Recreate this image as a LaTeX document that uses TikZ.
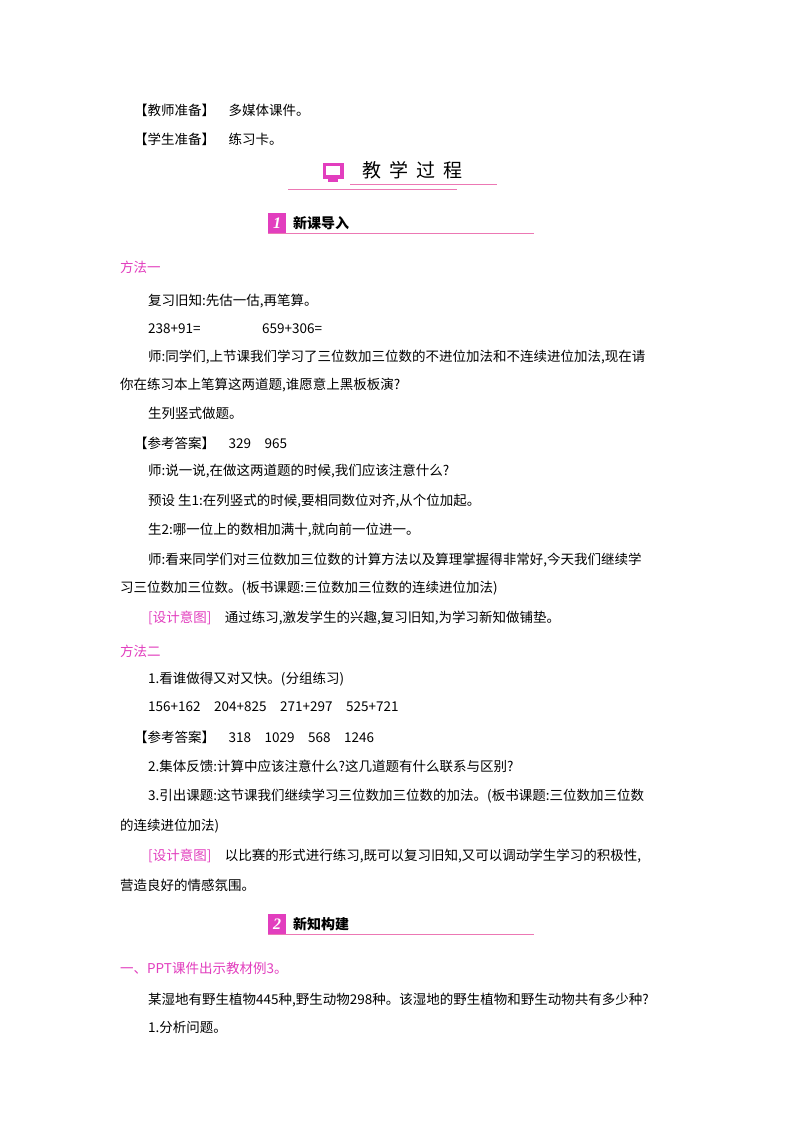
\documentclass[tikz,border=0pt]{standalone}
\usepackage{fontspec}
\setmainfont{Noto Sans CJK SC}
\newfontfamily\numfont{Liberation Serif}
\definecolor{pk}{RGB}{226,62,190}
\definecolor{pkl}{RGB}{236,120,180}
\begin{document}
\begin{tikzpicture}[x=1pt,y=-1pt,
  t/.style={anchor=west,inner sep=0pt,font=\fontsize{13.5}{14}\selectfont},
  pt/.style={t,text=pk},
  sec/.style={anchor=west,inner sep=0pt,font=\fontsize{14}{14}\selectfont\bfseries}]
\useasboundingbox[fill=white] (0,0) rectangle (800,1132);
\node[t] (a1) at (134,110) {【教师准备】\quad 多媒体课件。};
\node[t] (a2) at (134,139) {【学生准备】\quad 练习卡。};
% header
\draw[pk,fill=pk] (323,163) rectangle (343,178);
\fill[white] (326,166) rectangle (340,175);
\fill[pk] (328,179) rectangle (338,182);
\node[anchor=west,inner sep=0pt,font=\fontsize{19}{19}\selectfont] (hd) at (362,170) {教\hspace{8pt}学\hspace{8pt}过\hspace{8pt}程};
\draw[pkl,line width=0.8pt] (350,184) -- (497,184);
\draw[pkl,line width=0.8pt] (288,189) -- (457,189);
% section 1
\fill[pk] (268,213) rectangle (286,233);
\node[inner sep=0pt,text=white,font=\bfseries\itshape\fontsize{16}{16}\selectfont\numfont] (n1) at (277,223) {1};
\node[sec] (s1) at (293,223) {新课导入};
\draw[pkl,line width=0.6pt] (268,233.5) -- (534,233.5);
\node[pt] (m1) at (120,267) {方法一};
\node[t] (l1) at (148,301) {复习旧知:先估一估,再笔算。};
\node[t] (l2) at (148,329) {238+91=};
\node[t] (l2b) at (262,329) {659+306=};
\node[t] (l3) at (148,357) {师:同学们,上节课我们学习了三位数加三位数的不进位加法和不连续进位加法,现在请};
\node[t] (l4) at (120,385) {你在练习本上笔算这两道题,谁愿意上黑板板演?};
\node[t] (l5) at (148,413) {生列竖式做题。};
\node[t] (l6) at (134,443) {【参考答案】\quad 329\quad 965};
\node[t] (l7) at (148,471) {师:说一说,在做这两道题的时候,我们应该注意什么?};
\node[t] (l8) at (148,501) {预设\ 生1:在列竖式的时候,要相同数位对齐,从个位加起。};
\node[t] (l9) at (148,530) {生2:哪一位上的数相加满十,就向前一位进一。};
\node[t] (l10) at (148,560) {师:看来同学们对三位数加三位数的计算方法以及算理掌握得非常好,今天我们继续学};
\node[t] (l11) at (120,588) {习三位数加三位数。(板书课题:三位数加三位数的连续进位加法)};
\node[t] (l12) at (148,618) {\textcolor{pk}{[设计意图]}\quad 通过练习,激发学生的兴趣,复习旧知,为学习新知做铺垫。};
\node[pt] (m2) at (120,651) {方法二};
\node[t] (k1) at (148,679) {1.看谁做得又对又快。(分组练习)};
\node[t] (k2) at (148,707) {156+162\quad 204+825\quad 271+297\quad 525+721};
\node[t] (k3) at (134,737) {【参考答案】\quad 318\quad 1029\quad 568\quad 1246};
\node[t] (k4) at (148,766) {2.集体反馈:计算中应该注意什么?这几道题有什么联系与区别?};
\node[t] (k5) at (148,796) {3.引出课题:这节课我们继续学习三位数加三位数的加法。(板书课题:三位数加三位数};
\node[t] (k6) at (120,826) {的连续进位加法)};
\node[t] (k7) at (148,856) {\textcolor{pk}{[设计意图]}\quad 以比赛的形式进行练习,既可以复习旧知,又可以调动学生学习的积极性,};
\node[t] (k8) at (120,885) {营造良好的情感氛围。};
% section 2
\fill[pk] (268,914) rectangle (286,934);
\node[inner sep=0pt,text=white,font=\bfseries\itshape\fontsize{16}{16}\selectfont\numfont] (n2) at (277,924) {2};
\node[sec] (s2) at (293,924) {新知构建};
\draw[pkl,line width=0.6pt] (268,934.5) -- (534,934.5);
\node[pt] (p1) at (120,968) {一、PPT课件出示教材例3。};
\node[t] (p2) at (148,1000) {某湿地有野生植物445种,野生动物298种。该湿地的野生植物和野生动物共有多少种?};
\node[t] (p3) at (148,1027) {1.分析问题。};
\end{tikzpicture}
\end{document}
